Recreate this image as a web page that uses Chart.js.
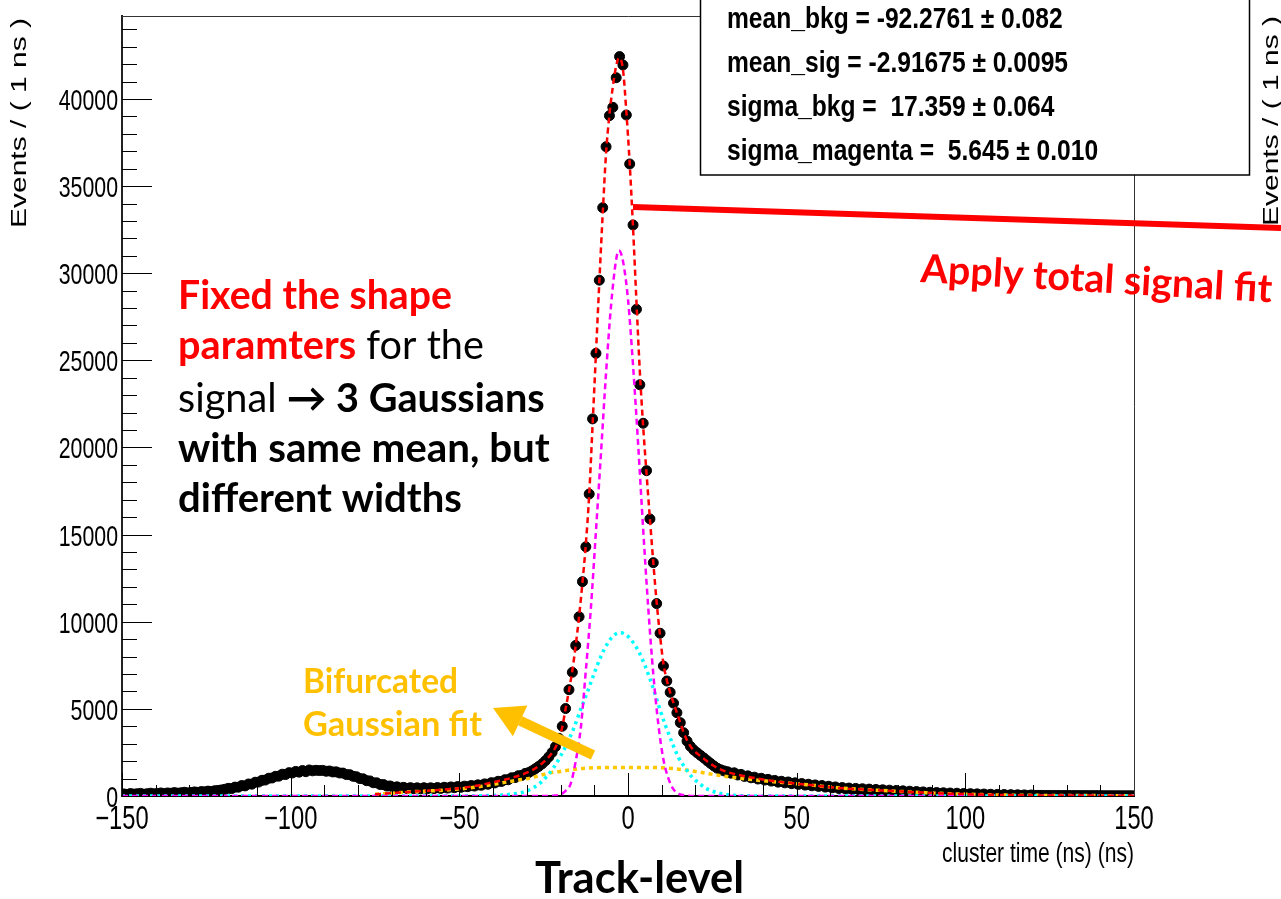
<!DOCTYPE html>
<html>
<head>
<meta charset="utf-8">
<title>cluster time fit</title>
<script src="https://cdn.jsdelivr.net/npm/chart.js@4.4.1/dist/chart.umd.min.js"></script>
<style>
  html, body { margin: 0; padding: 0; background: #fff; }
  #wrap { width: 1281px; height: 899px; }
</style>
</head>
<body>
<div id="wrap"><canvas id="myChart" width="1281" height="899"></canvas></div>
<script>
// histogram, 1 ns bins from -150 to 150
const binLow = -150;
const binWidth = 1;
const counts = [
  120, 95, 140, 110, 130, 150, 105, 135, 160, 125,
  150, 175, 140, 175, 160, 195, 165, 185, 215, 180,
  205, 235, 210, 255, 240, 280, 260, 305, 320, 350,
  385, 440, 425, 510, 505, 600, 580, 690, 680, 790,
  800, 900, 915, 1020, 1035, 1130, 1140, 1250, 1230, 1340,
  1320, 1410, 1370, 1460, 1395, 1495, 1445, 1475, 1460, 1470,
  1420, 1435, 1380, 1385, 1320, 1315, 1230, 1225, 1130, 1105,
  1000, 985, 880, 865, 760, 755, 660, 655, 570, 575,
  500, 525, 460, 495, 430, 480, 420, 470, 410, 475,
  415, 470, 425, 485, 435, 500, 455, 520, 475, 540,
  500, 565, 535, 600, 570, 640, 615, 695, 675, 765,
  750, 845, 835, 935, 935, 1045, 1055, 1165, 1175, 1295,
  1340, 1440, 1560, 1690, 1840, 2020, 2240, 2500, 2830, 3310,
  4000, 5020, 6100, 7100, 8640, 10290, 12300, 14300, 17330, 21640,
  25400, 29600, 33760, 37260, 39040, 39520, 41220, 42430, 41950, 39080,
  36270, 32770, 27930, 23600, 21390, 18670, 15900, 13390, 11040, 9340,
  7460, 6600, 5950, 5330, 4780, 4210, 3630, 3150, 2850, 2640,
  2480, 2330, 2180, 2020, 1870, 1720, 1590, 1500, 1440, 1390,
  1310, 1330, 1205, 1240, 1125, 1155, 1045, 1080, 975, 1015,
  915, 955, 855, 895, 795, 845, 755, 805, 710, 755,
  665, 715, 625, 675, 585, 635, 550, 600, 510, 560,
  470, 520, 430, 485, 400, 455, 375, 435, 355, 415,
  335, 395, 315, 375, 295, 355, 275, 335, 255, 315,
  235, 295, 215, 275, 195, 255, 175, 235, 155, 215,
  145, 200, 125, 185, 110, 170, 95, 160, 85, 147,
  75, 134, 65, 122, 55, 112, 48, 100, 40, 92,
  35, 85, 30, 78, 28, 70, 25, 64, 22, 58,
  38, 37, 36, 35, 34, 33, 32, 31, 30, 29,
  28, 27, 26, 26, 25, 24, 24, 23, 22, 22,
  21, 21, 20, 20, 19, 19, 18, 18, 17, 17
];

// fit curves [x, y]
const totalFit = [
  [-75, 100], [-70, 165], [-65, 235], [-60, 300], [-55, 365], [-50, 450], [-45, 590], [-40, 790],
  [-36, 960], [-32, 1190], [-29, 1420], [-26.5, 1720], [-24.5, 2040], [-22.5, 2480], [-21, 3000],
  [-19.5, 3950], [-18.5, 5000], [-17.5, 6050], [-16.5, 7200], [-15.5, 8650], [-14.5, 10300],
  [-13.5, 12250], [-12.5, 14450], [-11.5, 17300], [-10.5, 21300], [-9.5, 25400], [-8.5, 29500],
  [-7.5, 33400], [-6.5, 36900], [-5.5, 39100], [-4.5, 40700], [-3.5, 41900], [-2.7, 42350],
  [-1.5, 41700], [-0.5, 39300], [0.5, 36300], [1.5, 32600], [2.5, 28400], [3.5, 24400],
  [4.5, 21200], [5.5, 18500], [6.5, 15900], [7.5, 13400], [8.5, 11100], [9.5, 9200],
  [10.5, 7600], [11.5, 6650], [12.5, 5950], [13.5, 5330], [14.5, 4780], [15.5, 4210],
  [16.5, 3650], [17.5, 3200], [19, 2720], [21, 2360], [23, 2060], [25, 1780], [27, 1560],
  [30, 1340], [35, 1120], [40, 950], [45, 810], [50, 705], [55, 610], [60, 505], [65, 425],
  [70, 370], [75, 320], [80, 270], [85, 220], [90, 175], [95, 135], [100, 106], [105, 80],
  [110, 60], [120, 38], [130, 28], [140, 21], [150, 17]
];
const bifurFit = [
  [-75, 95], [-70, 160], [-64, 245], [-58, 300], [-53, 360], [-48, 440], [-43, 570], [-38, 730],
  [-33, 900], [-29, 1030], [-26, 1190], [-23, 1330], [-20, 1410], [-17, 1500], [-14, 1580],
  [-10, 1620], [-5, 1640], [0, 1640], [5, 1640], [10, 1620], [14, 1560], [17, 1490], [20, 1410],
  [23, 1310], [26, 1210], [30, 1100], [35, 980], [40, 880], [45, 790], [50, 700], [55, 610],
  [60, 510], [65, 430], [70, 370], [75, 320], [80, 270], [85, 220], [90, 175], [95, 135],
  [100, 105], [105, 80], [110, 60], [120, 38], [130, 28], [140, 21], [150, 17]
];
const wideGaus = [
  [-150, 0], [-50, 0], [-44, 10], [-40, 30], [-36, 75], [-33, 150], [-31, 220], [-28, 480],
  [-26, 750], [-24, 1150], [-22, 1650], [-20, 2280], [-18, 3050], [-16, 3920], [-14, 4980],
  [-12, 5980], [-10, 7050], [-8, 8020], [-6, 8780], [-4, 9250], [-2.4, 9370], [-1, 9300],
  [1, 8950], [3, 8350], [5, 7500], [7, 6450], [9, 5250], [11, 4100], [13, 3100], [15, 2200],
  [17, 1600], [19, 1080], [21, 750], [23, 450], [25, 280], [27, 160], [30, 60], [34, 15],
  [40, 2], [150, 0]
];
const narrowGaus = [
  [-150, 0], [-26, 0], [-22, 20], [-20, 90], [-18.5, 300], [-17, 700], [-15.5, 2000], [-14, 3900],
  [-12.5, 7200], [-11, 10800], [-9.5, 15200], [-8, 19700], [-6.5, 24300], [-5, 28200],
  [-3.5, 30800], [-2.7, 31300], [-1.5, 30700], [0, 28500], [1.5, 24700], [3, 20200],
  [4.5, 15300], [6, 10800], [7.5, 7000], [9, 4100], [10.5, 2100], [12, 1000], [13.5, 380],
  [15, 130], [17, 30], [20, 0], [150, 0]
];

const xTickValues = [-150, -100, -50, 0, 50, 100, 150];
const yTickValues = [0, 5000, 10000, 15000, 20000, 25000, 30000, 35000, 40000];
const xTitle = 'cluster time (ns) (ns)';
const yTitleText = 'Events / ( 1 ns )';

const statLines = [
  'mean_bkg = -92.2761 \u00b1 0.082',
  'mean_sig = -2.91675 \u00b1 0.0095',
  'sigma_bkg =  17.359 \u00b1 0.064',
  'sigma_magenta =  5.645 \u00b1 0.010'
];

const slideFont = "Lato, 'Open Sans', sans-serif";
const RED = '#ff0000';
const ORANGE = '#ffc000';

const minus = v => (v < 0 ? '\u2212' + Math.abs(v) : String(v));

// ROOT text looks squeezed sideways, so draw it with a narrow transform
function rootText(c, text, x, y, size, squeeze, align, bold) {
  c.save();
  c.translate(x, y);
  c.scale(squeeze, 1);
  c.font = (bold ? 'bold ' : '') + size + "px 'Liberation Sans', Arial, sans-serif";
  c.textAlign = align;
  c.fillStyle = '#000';
  c.fillText(text, 0, 0);
  c.restore();
}

function yTitle(c, x, cy) {
  c.save();
  c.translate(x, cy);
  c.rotate(-Math.PI / 2);
  c.scale(1, 0.73);
  c.font = "30px 'Liberation Sans', Arial, sans-serif";
  c.textAlign = 'center';
  c.fillStyle = '#000';
  c.fillText(yTitleText, 0, 0);
  c.restore();
}

// line of text made of parts, sized so it spans 'width'
function drawParts(c, parts, x, y, width) {
  const base = 40;
  let total = 0;
  parts.forEach(p => {
    c.font = (p.bold ? 'bold ' : '') + base + 'px ' + slideFont;
    total += c.measureText(p.text).width;
  });
  const size = base * width / total;
  let cx = x;
  parts.forEach(p => {
    c.font = (p.bold ? 'bold ' : '') + size.toFixed(2) + 'px ' + slideFont;
    c.fillStyle = p.color;
    c.fillText(p.text, cx, y);
    cx += c.measureText(p.text).width;
  });
}

const extras = {
  id: 'extras',
  beforeDatasetsDraw(chart) {
    // error bars of the histogram
    const c = chart.ctx;
    const xs = chart.scales.x, ys = chart.scales.y;
    c.save();
    c.strokeStyle = '#000';
    c.lineWidth = 1;
    c.beginPath();
    counts.forEach((n, i) => {
      const x0 = binLow + i * binWidth;
      const px = xs.getPixelForValue(x0 + binWidth / 2);
      const e = Math.sqrt(n);
      c.moveTo(px, ys.getPixelForValue(n - e));
      c.lineTo(px, ys.getPixelForValue(n + e));
      c.moveTo(xs.getPixelForValue(x0), ys.getPixelForValue(n));
      c.lineTo(xs.getPixelForValue(x0 + binWidth), ys.getPixelForValue(n));
    });
    c.stroke();
    c.restore();
  },
  afterDraw(chart) {
    const c = chart.ctx;
    const a = chart.chartArea;
    const xs = chart.scales.x, ys = chart.scales.y;
    c.save();

    // ticks pointing into the frame
    c.strokeStyle = '#000';
    c.lineWidth = 1;
    c.beginPath();
    for (let v = 0; v <= 44000; v += 1000) {
      const py = Math.round(ys.getPixelForValue(v)) + 0.5;
      c.moveTo(a.left, py);
      c.lineTo(a.left + (v % 5000 === 0 ? 30 : 15), py);
    }
    for (let v = -150; v <= 150; v += 10) {
      const px = Math.round(xs.getPixelForValue(v)) + 0.5;
      c.moveTo(px, a.bottom);
      c.lineTo(px, a.bottom - (v % 50 === 0 ? 23 : 11));
    }
    c.stroke();

    // rest of the frame
    c.strokeStyle = '#333';
    c.beginPath();
    c.moveTo(a.left, a.top + 0.5);
    c.lineTo(a.right + 0.5, a.top + 0.5);
    c.lineTo(a.right + 0.5, a.bottom);
    c.stroke();

    // tick labels and axis titles
    yTickValues.forEach(v => rootText(c, String(v), a.left - 4, ys.getPixelForValue(v) + 11, 30, 0.71, 'right'));
    xTickValues.forEach(v => rootText(c, minus(v), xs.getPixelForValue(v), 829, 33, 0.72, 'center'));
    rootText(c, xTitle, a.right, 862, 27, 0.78, 'right');
    yTitle(c, 26, 123);
    yTitle(c, 1278, 121);

    // stats box
    c.fillStyle = '#fff';
    c.fillRect(700, -2, 550, 177);
    c.strokeStyle = '#000';
    c.lineWidth = 1.5;
    c.strokeRect(700.5, -2, 549, 177);
    statLines.forEach((t, i) => rootText(c, t, 727, 28 + i * 44, 30, 0.82, 'left', true));

    // slide annotations
    c.strokeStyle = RED;
    c.lineWidth = 6;
    c.beginPath();
    c.moveTo(633, 207);
    c.lineTo(1281, 228);
    c.stroke();

    c.save();
    c.translate(920, 282);
    c.rotate(3.3 * Math.PI / 180);
    drawParts(c, [{ text: 'Apply total signal fit', bold: true, color: RED }], 0, 0, 352);
    c.restore();

    drawParts(c, [{ text: 'Fixed the shape', bold: true, color: RED }], 178, 309, 274);
    drawParts(c, [{ text: 'paramters', bold: true, color: RED }, { text: ' for the', bold: false, color: '#000' }], 178, 359, 306);
    drawParts(c, [{ text: 'signal ', bold: false, color: '#000' }, { text: '\u2192', bold: true, color: '#000' }, { text: ' 3 Gaussians', bold: true, color: '#000' }], 178, 412, 367);
    drawParts(c, [{ text: 'with same mean, but', bold: true, color: '#000' }], 178, 462, 372);
    drawParts(c, [{ text: 'different widths', bold: true, color: '#000' }], 178, 512, 284);

    drawParts(c, [{ text: 'Bifurcated', bold: true, color: ORANGE }], 303, 693, 155);
    drawParts(c, [{ text: 'Gaussian fit', bold: true, color: ORANGE }], 303, 736, 179);

    // orange arrow
    const tail = [593, 755], tip = [493, 708];
    const dx = tip[0] - tail[0], dy = tip[1] - tail[1];
    const len = Math.hypot(dx, dy);
    const ux = dx / len, uy = dy / len;
    const bx = tip[0] - ux * 30, by = tip[1] - uy * 30;
    c.strokeStyle = ORANGE;
    c.lineWidth = 10;
    c.beginPath();
    c.moveTo(tail[0], tail[1]);
    c.lineTo(bx, by);
    c.stroke();
    c.fillStyle = ORANGE;
    c.beginPath();
    c.moveTo(tip[0], tip[1]);
    c.lineTo(bx - uy * 17, by + ux * 17);
    c.lineTo(bx + uy * 17, by - ux * 17);
    c.closePath();
    c.fill();

    drawParts(c, [{ text: 'Track-level', bold: true, color: '#000' }], 535, 893, 209);

    c.restore();
  }
};

const toXY = arr => arr.map(p => ({ x: p[0], y: p[1] }));
const histPoints = counts.map((n, i) => ({ x: binLow + (i + 0.5) * binWidth, y: n }));

const ctx = document.getElementById('myChart');

new Chart(ctx, {
  type: 'scatter',
  data: {
    datasets: [
      {
        label: 'data',
        data: histPoints,
        pointRadius: 5,
        pointBackgroundColor: '#000',
        pointBorderColor: '#000',
        pointBorderWidth: 1,
        order: 10
      },
      {
        type: 'line',
        label: 'bifurcated gauss',
        data: toXY(bifurFit),
        borderColor: '#ffc800',
        borderWidth: 3.5,
        borderDash: [4, 4],
        pointRadius: 0,
        cubicInterpolationMode: 'monotone',
        order: 4
      },
      {
        type: 'line',
        label: 'wide gauss',
        data: toXY(wideGaus),
        borderColor: '#00ffff',
        borderWidth: 3.5,
        borderDash: [3, 4],
        pointRadius: 0,
        cubicInterpolationMode: 'monotone',
        order: 3
      },
      {
        type: 'line',
        label: 'narrow gauss',
        data: toXY(narrowGaus),
        borderColor: '#ff00ff',
        borderWidth: 2.5,
        borderDash: [6, 4],
        pointRadius: 0,
        cubicInterpolationMode: 'monotone',
        order: 2
      },
      {
        type: 'line',
        label: 'total',
        data: toXY(totalFit),
        borderColor: '#ff0000',
        borderWidth: 2.5,
        borderDash: [6, 4],
        pointRadius: 0,
        cubicInterpolationMode: 'monotone',
        order: 1
      }
    ]
  },
  options: {
    responsive: false,
    animation: false,
    devicePixelRatio: 1,
    layout: { padding: { top: 16, right: 147, left: 0, bottom: 0 } },
    plugins: {
      legend: { display: false },
      tooltip: { enabled: false }
    },
    scales: {
      x: {
        type: 'linear',
        min: -150,
        max: 150,
        grid: { display: false },
        border: { color: '#000', width: 2 },
        ticks: { display: false },
        afterFit: s => { s.height = 103; }
      },
      y: {
        min: 0,
        max: 44760,
        grid: { display: false },
        border: { color: '#222', width: 2 },
        ticks: { display: false },
        afterFit: s => { s.width = 122; }
      }
    }
  },
  plugins: [extras]
});
</script>
</body>
</html>
